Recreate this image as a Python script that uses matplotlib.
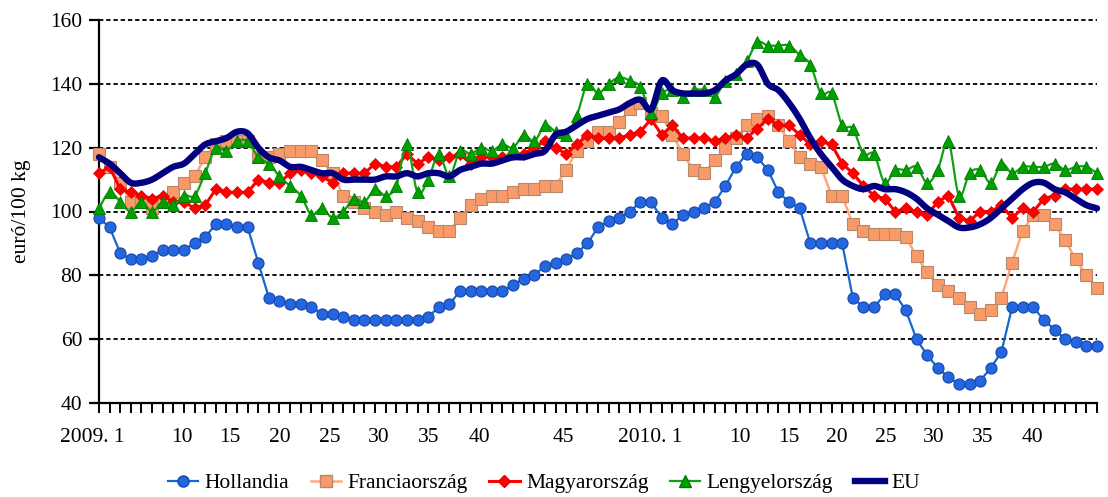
import numpy as np
import matplotlib
matplotlib.use("Agg")
import matplotlib.pyplot as plt
from matplotlib.lines import Line2D
from matplotlib.transforms import blended_transform_factory, ScaledTranslation

# ---------------- data (euró/100 kg, weekly, 2009 wk1 .. 2010 wk42) ----------------
hollandia = [98, 95, 87, 85, 85, 86, 88, 88, 88, 90,
             92, 96, 96, 95, 95, 84, 73, 72, 71, 71,
             70, 68, 68, 67, 66, 66, 66, 66, 66, 66,
             66, 67, 70, 71, 75, 75, 75, 75, 75, 77,
             79, 80, 83, 84, 85, 87, 90, 95, 97, 98,
             100, 103, 103, 98, 96, 99, 100, 101, 103, 108,
             114, 118, 117, 113, 106, 103, 101, 90, 90, 90,
             90, 73, 70, 70, 74, 74, 69, 60, 55, 51,
             48, 46, 46, 47, 51, 56, 70, 70, 70, 66,
             63, 60, 59, 58, 58]
francia = [118, 114, 109, 103, 103, 101, 103, 106, 109, 111,
           117, 121, 122, 122, 122, 117, 117, 118, 119, 119,
           119, 116, 112, 105, 103, 101, 100, 99, 100, 98,
           97, 95, 94, 94, 98, 102, 104, 105, 105, 106,
           107, 107, 108, 108, 113, 119, 122, 125, 125, 128,
           132, 134, 131, 130, 124, 118, 113, 112, 116, 120,
           123, 127, 129, 130, 127, 122, 117, 115, 114, 105,
           105, 96, 94, 93, 93, 93, 92, 86, 81, 77,
           75, 73, 70, 68, 69, 73, 84, 94, 99, 99,
           96, 91, 85, 80, 76]
magyar = [112, 114, 107, 106, 105, 104, 105, 103, 103, 101,
          102, 107, 106, 106, 106, 110, 109, 109, 112, 113,
          112, 111, 109, 112, 112, 112, 115, 114, 114, 118,
          115, 117, 116, 117, 118, 115, 117, 117, 117, 118,
          118, 120, 122, 120, 118, 121, 124, 123, 123, 123,
          124, 125, 129, 124, 127, 123, 123, 123, 122, 123,
          124, 123, 126, 129, 127, 127, 124, 121, 122, 121,
          115, 112, 108, 105, 104, 100, 101, 100, 99, 103,
          105, 98, 97, 100, 100, 102, 98, 101, 100, 104,
          105, 107, 107, 107, 107]
lengyel = [101, 106, 103, 100, 103, 100, 103, 102, 105, 105,
           112, 120, 119, 122, 122, 117, 115, 111, 108, 105,
           99, 101, 98, 100, 104, 103, 107, 105, 108, 121,
           106, 110, 118, 111, 119, 118, 120, 119, 121, 120,
           124, 122, 127, 125, 124, 130, 140, 137, 140, 142,
           141, 139, 131, 137, 138, 136, 138, 138, 136, 141,
           143, 147, 153, 152, 152, 152, 149, 146, 137, 137,
           127, 126, 118, 118, 109, 113, 113, 114, 109, 113,
           122, 105, 112, 113, 109, 115, 112, 114, 114, 114,
           115, 113, 114, 114, 112]
eu = [117, 115, 112, 109, 109, 110, 112, 114, 115, 118,
      121, 122, 123, 125, 124.5, 120, 117, 116, 114, 114,
      113, 112, 112, 110, 110, 110, 110, 111, 111, 112,
      111, 112, 112, 111, 113, 114, 115, 115, 116, 117,
      117, 118, 119, 124, 125, 127, 129, 130, 131, 132,
      134, 135, 132, 141, 138, 137, 137, 137, 138, 141,
      143, 146, 146, 140, 138, 134, 129, 123, 118, 114,
      110, 108, 107, 108, 107, 107, 106, 104, 101, 99,
      97, 95, 95, 96, 98, 101, 104, 107, 109, 109,
      107, 106, 104, 102, 101]

series_names = ["Hollandia", "Franciaország", "Magyarország", "Lengyelország", "EU"]
tick_labels = ["2009. 1", "10", "15", "20", "25", "30", "35", "40", "45",
               "2010. 1", "10", "15", "20", "25", "30", "35", "40"]
label_slots = [-0.66, 7.82, 12.34, 17.05, 21.76, 26.37, 31.08, 35.79, 43.70,
               51.90, 60.38, 64.99, 69.51, 74.13, 78.65, 83.26, 87.88]
y_ticks = [40, 60, 80, 100, 120, 140, 160]
y_label = "euró/100 kg"


def excel_smooth(xs, ys, n=12):
    """Bezier smoothing similar to Excel's 'smoothed line'."""
    xs = np.asarray(xs, float)
    ys = np.asarray(ys, float)
    P = np.column_stack([xs, ys])
    out = [P[0]]
    t = np.linspace(0, 1, n + 1)[1:]
    for i in range(len(P) - 1):
        p0 = P[i - 1] if i > 0 else P[i]
        p1 = P[i]
        p2 = P[i + 1]
        p3 = P[i + 2] if i + 2 < len(P) else P[i + 1]
        c1 = p1 + (p2 - p0) / 6.0
        c2 = p2 - (p3 - p1) / 6.0
        for tt in t:
            b = ((1 - tt) ** 3) * p1 + 3 * ((1 - tt) ** 2) * tt * c1 + \
                3 * (1 - tt) * tt ** 2 * c2 + tt ** 3 * p2
            out.append(b)
    out = np.array(out)
    return out[:, 0], out[:, 1]


plt.rcParams['font.family'] = ['Liberation Serif', 'DejaVu Serif']

W, H = 1108, 497
fig = plt.figure(figsize=(W / 100, H / 100), dpi=100)
ax = fig.add_axes([99 / W, (H - 403) / H, 998 / W, 383 / H])

x = np.arange(len(hollandia))

# grid
for yv in y_ticks[1:]:
    ax.axhline(yv, color='black', lw=1.3, ls=(0, (2.4, 1.6)), zorder=1, clip_on=False)

# series
ax.plot(x, hollandia, color='#1468D2', lw=1.6, marker='o', ms=8,
        mfc='#2466E0', mec='#1848A8', mew=0.8, zorder=3, clip_on=False)
ax.plot(x, francia, color='#FFA878', lw=1.8, marker='s', ms=8,
        mfc='#F99B68', mec='#B7876C', mew=0.8, zorder=4, clip_on=False)
ax.plot(x, magyar, color='#FF0000', lw=2.2, marker='D', ms=6.2,
        mfc='#FF0000', mec='#E00000', mew=0.5, zorder=5, clip_on=False)
gx, gy = excel_smooth(x, lengyel)
ax.plot(gx, gy, color='#10A010', lw=1.6, zorder=6, clip_on=False)
ax.plot(x, lengyel, ls='none', marker='^', ms=8.5,
        mfc='#00A000', mec='#007A00', mew=0.6, zorder=6, clip_on=False)
ex, ey = excel_smooth(x, eu)
ax.plot(ex, ey, color='#000080', lw=4.6, zorder=7, clip_on=False,
        solid_capstyle='round', solid_joinstyle='round')

# axes styling
for s in ['top', 'right']:
    ax.spines[s].set_visible(False)
for s in ['left', 'bottom']:
    ax.spines[s].set_linewidth(1.6)
    ax.spines[s].set_color('black')

ax.set_yticks(y_ticks)
ax.set_yticklabels([str(v) for v in y_ticks])
ax.tick_params(axis='y', direction='out', length=7, width=1.6, pad=5, labelsize=15.5)

ax.set_xticks(x)
ax.set_xticklabels([''] * len(x))
ax.tick_params(axis='x', which='major', direction='out', length=7, width=1.4)

ax.set_xlim(0, len(x) - 1)
ax.set_ylim(40, 160)

# category labels below the axis (drawn at their category positions)
lab_tr = blended_transform_factory(ax.transData, ax.transAxes) + \
    ScaledTranslation(0, -25 / 100, fig.dpi_scale_trans)
for pos, lab in zip(label_slots, tick_labels):
    ax.text(pos, 0, lab, transform=lab_tr, ha='center', va='top',
            fontsize=15.5, clip_on=False)

ax.set_ylabel(y_label, fontsize=15.5, labelpad=14)

# legend
handles = [
    Line2D([], [], color='#1468D2', lw=1.6, marker='o', ms=8, mfc='#2466E0', mec='#1848A8'),
    Line2D([], [], color='#FFA878', lw=1.8, marker='s', ms=8, mfc='#F99B68', mec='#B7876C'),
    Line2D([], [], color='#FF0000', lw=2.2, marker='D', ms=6.2, mfc='#FF0000', mec='#E00000'),
    Line2D([], [], color='#10A010', lw=1.6, marker='^', ms=8.5, mfc='#00A000', mec='#007A00'),
    Line2D([], [], color='#000080', lw=4.6),
]
fig.legend(handles, series_names, loc='center', bbox_to_anchor=(544 / W, 1 - 483 / H),
           ncol=5, frameon=False, fontsize=15.5, handlelength=1.4, handletextpad=0.3,
           columnspacing=1.0, borderaxespad=0)

fig.savefig('out.png', dpi=100)
